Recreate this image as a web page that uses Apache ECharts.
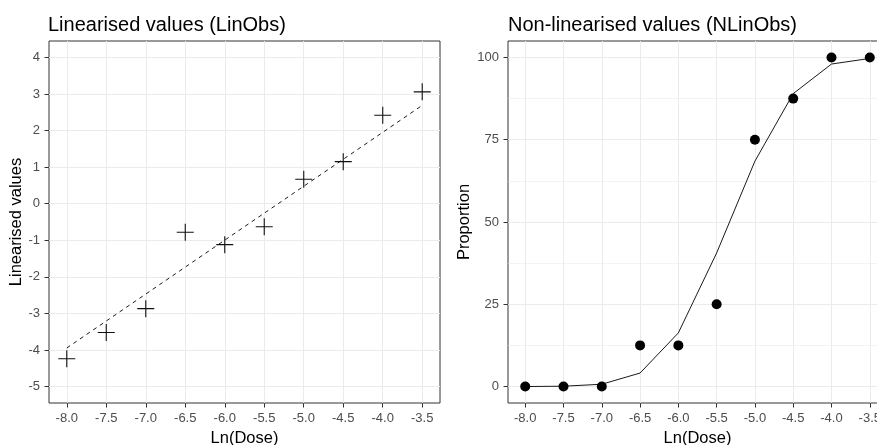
<!DOCTYPE html>
<html><head><meta charset="utf-8">
<script src="https://cdn.jsdelivr.net/npm/echarts@6/dist/echarts.min.js"></script>
<style>html,body{margin:0;padding:0;background:#fff}#c{width:877px;height:445px}</style>
</head><body><div id="c"></div>
<script>
// ---- data ----
const doses = [-8.0, -7.5, -7.0, -6.5, -6.0, -5.5, -5.0, -4.5, -4.0, -3.5];
const linObs = [-4.24, -3.52, -2.87, -0.78, -1.12, -0.63, 0.67, 1.15, 2.42, 3.06];
const linFitDose = [-8.0, -3.5];
const linFit = [-3.945, 2.69];
const nLinObs = [0, 0, 0, 12.5, 12.5, 25, 75, 87.5, 100, 100];
const nLinFit = [0, 0.1, 0.7, 4.1, 16.3, 40.6, 68.5, 89, 98, 99.7];
const xTicks = [-8.0, -7.5, -7.0, -6.5, -6.0, -5.5, -5.0, -4.5, -4.0, -3.5];
const yTicksLin = [-5, -4, -3, -2, -1, 0, 1, 2, 3, 4];
const yTicksProp = [0, 25, 50, 75, 100];
const yMinorProp = [12.5, 37.5, 62.5, 87.5];

const FONT = 'Liberation Sans, Arial, sans-serif';
const tickLabel = {color: '#4D4D4D', fontSize: 13, fontFamily: FONT, margin: 9};
const nameStyle = {color: '#000', fontSize: 16.5, fontFamily: FONT};
const tick = {length: 4.5, lineStyle: {color: '#333', width: 1}};
const major = {show: true, lineStyle: {color: '#EBEBEB', width: 1}};

function xAxis(gi) {
  return {
    type: 'value', gridIndex: gi, min: -8.225, max: -3.275, position: 'bottom',
    axisLine: {show: false, onZero: false},
    axisTick: Object.assign({customValues: xTicks}, tick),
    axisLabel: Object.assign({customValues: xTicks, formatter: v => v.toFixed(1)}, tickLabel),
    splitLine: major,
    name: 'Ln(Dose)', nameLocation: 'middle', nameGap: 27, nameTextStyle: nameStyle
  };
}

const chart = echarts.init(document.getElementById('c'), null, {renderer: 'canvas'});
chart.setOption({
  animation: false,
  backgroundColor: '#fff',
  title: [
    {text: 'Linearised values (LinObs)', left: 48, top: 15, padding: 0,
     textStyle: {fontSize: 20, fontWeight: 'normal', color: '#000', fontFamily: FONT}},
    {text: 'Non-linearised values (NLinObs)', left: 508, top: 15, padding: 0,
     textStyle: {fontSize: 20, fontWeight: 'normal', color: '#000', fontFamily: FONT}}
  ],
  grid: [
    {left: 49, top: 41, width: 391, height: 362, show: true, borderColor: '#333', borderWidth: 1, backgroundColor: '#fff', containLabel: false, outerBoundsMode: 'none'},
    {left: 508, top: 41, width: 379, height: 362, show: true, borderColor: '#333', borderWidth: 1, backgroundColor: '#fff', containLabel: false, outerBoundsMode: 'none'}
  ],
  xAxis: [xAxis(0), xAxis(1)],
  yAxis: [
    {type: 'value', gridIndex: 0, min: -5.45, max: 4.45, position: 'left',
     axisLine: {show: false, onZero: false},
     axisTick: Object.assign({customValues: yTicksLin}, tick),
     axisLabel: Object.assign({customValues: yTicksLin}, tickLabel),
     splitLine: major,
     name: 'Linearised values', nameLocation: 'middle', nameGap: 23, nameTextStyle: nameStyle},
    {type: 'value', gridIndex: 1, min: -5, max: 105, position: 'left',
     axisLine: {show: false, onZero: false},
     axisTick: Object.assign({customValues: yTicksProp}, tick),
     axisLabel: Object.assign({customValues: yTicksProp}, tickLabel),
     splitLine: major,
     name: 'Proportion', nameLocation: 'middle', nameGap: 35, nameTextStyle: nameStyle},
    {type: 'value', gridIndex: 1, min: -5, max: 105, position: 'right',
     axisLine: {show: false, onZero: false},
     axisTick: {show: false, customValues: yMinorProp},
     axisLabel: {show: false, customValues: yMinorProp},
     splitLine: {show: true, lineStyle: {color: '#EBEBEB', width: 0.6}}}
  ],
  series: [
    {type: 'line', xAxisIndex: 0, yAxisIndex: 0, showSymbol: false, symbol: 'none',
     data: linFitDose.map((d, i) => [d, linFit[i]]),
     lineStyle: {color: '#000', width: 0.9, type: [4, 4]}, z: 3},
    {type: 'scatter', xAxisIndex: 0, yAxisIndex: 0,
     symbol: 'path://M0,-8L0,8M-8,0L8,0', symbolSize: 17,
     data: doses.map((d, i) => [d, linObs[i]]),
     itemStyle: {color: 'none', borderColor: '#111', borderWidth: 1.1, opacity: 1}, z: 4},
    {type: 'line', xAxisIndex: 1, yAxisIndex: 1, showSymbol: false, symbol: 'none',
     data: doses.map((d, i) => [d, nLinFit[i]]),
     lineStyle: {color: '#000', width: 0.9}, z: 3},
    {type: 'scatter', xAxisIndex: 1, yAxisIndex: 1, symbol: 'circle', symbolSize: 10,
     data: doses.map((d, i) => [d, nLinObs[i]]),
     itemStyle: {color: '#000', opacity: 1}, z: 4}
  ]
});
</script>
</body></html>
